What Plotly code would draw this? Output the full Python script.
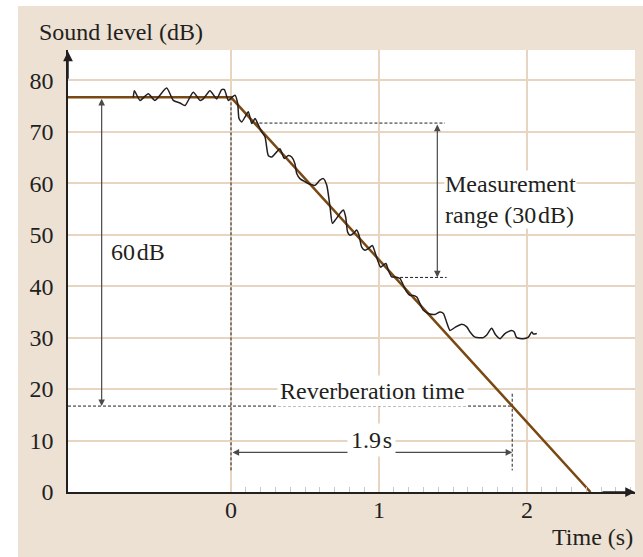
import plotly.graph_objects as go

# Measured decay (time in s, level in dB)
noise_t = [-0.66, -0.653, -0.615, -0.559, -0.514, -0.435, -0.39, -0.345, -0.311, -0.255,
           -0.209, -0.187, -0.142, -0.097, -0.063, -0.045, -0.018, 0.005, 0.027, 0.045,
           0.054, 0.072, 0.095, 0.117, 0.14, 0.162, 0.185, 0.207, 0.23, 0.252,
           0.275, 0.309, 0.331, 0.36, 0.387, 0.41, 0.432, 0.444, 0.466, 0.5,
           0.534, 0.568, 0.601, 0.624, 0.647, 0.669, 0.685, 0.703, 0.736, 0.759,
           0.775, 0.788, 0.804, 0.826, 0.849, 0.865, 0.883, 0.905, 0.928, 0.955,
           0.973, 0.995, 1.011, 1.03, 1.047, 1.063, 1.086, 1.108, 1.142, 1.164,
           1.187, 1.209, 1.232, 1.255, 1.277, 1.3, 1.333, 1.378, 1.412, 1.435,
           1.457, 1.48, 1.514, 1.559, 1.593, 1.615, 1.649, 1.705, 1.728, 1.761,
           1.789, 1.818, 1.851, 1.896, 1.914, 1.93, 1.975, 2.009, 2.032, 2.043, 2.066]
noise_L = [76.7, 78.0, 76.1, 77.4, 76.1, 78.5, 76.1, 75.6, 75.1, 77.7,
           76.1, 76.4, 78.0, 76.4, 78.2, 78.2, 76.1, 76.7, 77.1, 75.5,
           72.6, 71.9, 72.9, 73.9, 71.6, 72.6, 71.3, 70.0, 69.0, 65.4,
           65.1, 66.1, 66.7, 64.8, 65.4, 65.1, 63.8, 61.9, 60.9, 60.3,
           59.8, 59.6, 60.6, 60.9, 59.6, 55.4, 52.2, 52.8, 54.1, 54.8,
           53.4, 50.5, 49.9, 50.2, 50.9, 49.9, 47.6, 47.0, 47.3, 47.9,
           46.6, 44.7, 43.7, 44.1, 44.4, 43.1, 41.8, 41.8, 41.5, 40.2,
           38.9, 38.2, 38.2, 37.9, 36.6, 35.3, 34.7, 34.5, 35.0, 34.7,
           33.0, 31.4, 32.0, 32.6, 32.1, 31.1, 30.1, 30.0, 30.5, 31.8,
           30.5, 29.8, 30.8, 31.4, 31.1, 30.0, 29.8, 30.1, 31.1, 30.7, 30.8]

# Idealised decay model
start_level = 76.7      # steady-state level (dB)
decay_drop = 60         # dB
reverb_time = 1.9       # s
meas_offset = 5         # dB below start where the range begins
meas_range = 30         # dB
decay_rate = decay_drop / reverb_time

x_range = [-1.1014, 2.7297]
y_range = [0, 85.9]
x_ticks = [0, 1, 2]
y_ticks = [0, 10, 20, 30, 40, 50, 60, 70, 80]
minor_ticks = [round(0.1 * i, 1) for i in range(1, 28) if i % 10]

model_t = [x_range[0], 0, start_level / decay_rate]
model_L = [start_level, start_level, 0]

end_level = start_level - decay_drop
meas_top = start_level - meas_offset
meas_bot = meas_top - meas_range

INK = "#231F20"
BROWN = "#7A4812"
BEIGE = "#EDE1D4"
GRID = "#E7D5C2"
FONT = "Liberation Serif"
THIN = '<span style="font-size:7px"> </span>'

fig = go.Figure()

dash = dict(color=INK, width=1, dash="3px,2px")
# t = 0 marker
fig.add_trace(go.Scatter(x=[0, 0], y=[start_level, 4.2], mode="lines", line=dash, hoverinfo="skip"))
# t = RT marker
fig.add_trace(go.Scatter(x=[reverb_time, reverb_time], y=[end_level + 2.4, 4.2], mode="lines", line=dash, hoverinfo="skip"))
# -60 dB level
fig.add_trace(go.Scatter(x=[x_range[0], reverb_time], y=[end_level, end_level], mode="lines", line=dash, hoverinfo="skip"))
# measurement range limits
fig.add_trace(go.Scatter(x=[(start_level - meas_top) / decay_rate, 1.446], y=[meas_top, meas_top],
                         mode="lines", line=dash, hoverinfo="skip"))
fig.add_trace(go.Scatter(x=[(start_level - meas_bot) / decay_rate, 1.457], y=[meas_bot, meas_bot],
                         mode="lines", line=dash, hoverinfo="skip"))

# model line
fig.add_trace(go.Scatter(x=model_t, y=model_L, mode="lines", line=dict(color=BROWN, width=2.5),
                         hoverinfo="skip"))
# measured curve
fig.add_trace(go.Scatter(x=noise_t, y=noise_L, mode="lines",
                         line=dict(color=INK, width=1.5, shape="spline", smoothing=0.6),
                         hoverinfo="skip"))

ARROW = "#4A4A4A"


def double_arrow(x0, y0, x1, y1):
    fig.add_annotation(x=x1, y=y1, ax=x0, ay=y0, xref="x", yref="y", axref="x", ayref="y",
                       showarrow=True, arrowside="end+start", arrowhead=2, startarrowhead=2,
                       arrowsize=1.1, startarrowsize=1.1, arrowwidth=1.2, arrowcolor=ARROW, text="")


double_arrow(-0.874, start_level, -0.874, end_level)
double_arrow(1.394, meas_top, 1.394, meas_bot)
double_arrow(0, 7.7, reverb_time, 7.7)

# axis arrowheads
fig.add_annotation(x=x_range[0], y=85.6, ax=x_range[0], ay=80, xref="x", yref="y", axref="x", ayref="y",
                   showarrow=True, arrowhead=2, arrowsize=1.3, arrowwidth=1.5, arrowcolor=INK, text="")
fig.add_annotation(x=x_range[1], y=0, ax=2.5, ay=0, xref="x", yref="y", axref="x", ayref="y",
                   showarrow=True, arrowhead=2, arrowsize=1.3, arrowwidth=1.5, arrowcolor=INK, text="")

tfont = dict(family=FONT, size=24, color=INK)
fig.add_annotation(x=-0.628, y=46.6, text="60" + THIN + "dB", showarrow=False, font=tfont)
fig.add_annotation(x=1.44, y=56.8, text="Measurement<br>range (30" + THIN + "dB)", showarrow=False,
                   xanchor="left", align="left", font=tfont, bgcolor="white", borderpad=0)
fig.add_annotation(x=0.953, y=19.6, text="Reverberation time", showarrow=False, font=tfont,
                   bgcolor="white", borderpad=2)
fig.add_annotation(x=0.95, y=10.1, text="1.9" + THIN + "s", showarrow=False, font=tfont,
                   bgcolor="white", borderpad=3)

# axis titles
fig.add_annotation(x=-0.0547, y=1.04, xref="paper", yref="paper", text="Sound level (dB)",
                   showarrow=False, xanchor="left", yanchor="middle", font=tfont)
fig.add_annotation(x=1.0, y=-0.102, xref="paper", yref="paper", text="Time (s)",
                   showarrow=False, xanchor="right", yanchor="middle", font=tfont)

# panel background
fig.add_shape(type="rect", xref="paper", yref="paper", x0=-0.0882, x1=1.1, y0=-0.3, y1=1.0995,
              fillcolor=BEIGE, line_width=0, layer="below")
fig.add_shape(type="rect", xref="paper", yref="paper", x0=0, x1=1, y0=0, y1=1,
              fillcolor="white", line_width=0, layer="below")

fig.update_layout(
    width=643, height=557,
    margin=dict(l=68, r=8, t=50, b=65),
    paper_bgcolor="white", plot_bgcolor="white",
    showlegend=False,
    font=tfont,
)
fig.update_xaxes(range=x_range, tickvals=x_ticks, ticktext=[str(v) for v in x_ticks],
                 showgrid=True, gridcolor=GRID, gridwidth=1.5, zeroline=False,
                 showline=True, linecolor=INK, linewidth=1.6, ticks="",
                 ticklabelstandoff=-5,
                 minor=dict(tickvals=minor_ticks, ticks="inside", ticklen=5, tickwidth=1,
                            tickcolor="#C8C8C8", showgrid=False),
                 fixedrange=True)
fig.update_yaxes(range=y_range, tickvals=y_ticks, showgrid=True, gridcolor=GRID, gridwidth=1.5,
                 zeroline=False, showline=True, linecolor=INK, linewidth=1.6, ticks="",
                 ticklabelstandoff=8, fixedrange=True)

fig.write_html("out.html")
